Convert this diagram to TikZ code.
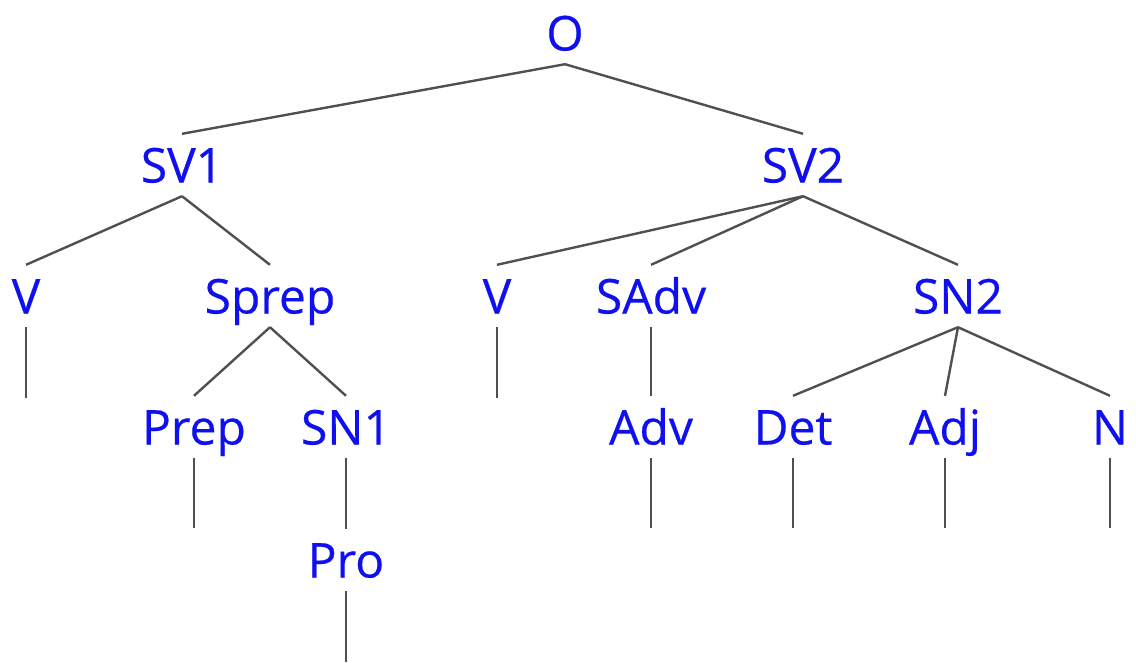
\documentclass[tikz,border=0pt]{standalone}
\usepackage{fontspec}
\setmainfont{Open Sans}
\newfontfamily\labfont{Open Sans}[FakeBold=0.4]
\definecolor{tb}{RGB}{15,15,240}
\definecolor{ln}{RGB}{80,80,80}
\begin{document}
\begin{tikzpicture}[x=1pt,y=1pt,
  cat/.style={text=tb, font=\labfont\fontsize{48}{48}\selectfont, text height=35pt, text depth=0pt, inner xsep=2pt, inner ysep=13.5pt},
  edge/.style={draw=ln, line width=2.4pt}]
\useasboundingbox (0,0) rectangle (1136,-662);
% row 0
\node[cat] (O) at (565,-33) {O};
% row 1
\node[cat] (SV1) at (182,-165) {SV1};
\node[cat] (SV2) at (803,-165) {SV2};
% row 2
\node[cat] (V1) at (26,-296) {V};
\node[cat] (Sprep) at (270,-296) {Sprep};
\node[cat] (V2) at (497,-296) {V};
\node[cat] (SAdv) at (651,-296) {SAdv};
\node[cat] (SN2) at (958,-296) {SN2};
% row 3
\node[cat] (Prep) at (194,-427) {Prep};
\node[cat] (SN1) at (346,-427) {SN1};
\node[cat] (Adv) at (651,-427) {Adv};
\node[cat] (Det) at (793,-427) {Det};
\node[cat] (Adj) at (945,-427) {Adj};
\node[cat] (N) at (1110,-427) {N};
% row 4
\node[cat] (Pro) at (346,-560) {Pro};
% leaf ends
\coordinate (eV1) at (26,-398);
\coordinate (eV2) at (497,-398);
\coordinate (ePrep) at (194,-528);
\coordinate (eAdv) at (651,-528);
\coordinate (eDet) at (793,-528);
\coordinate (eAdj) at (945,-528);
\coordinate (eN) at (1110,-528);
\coordinate (ePro) at (346,-662);
% edges
\draw[edge] (O.south) -- (SV1.north);
\draw[edge] (O.south) -- (SV2.north);
\draw[edge] (SV1.south) -- (V1.north);
\draw[edge] (SV1.south) -- (Sprep.north);
\draw[edge] (SV2.south) -- (V2.north);
\draw[edge] (SV2.south) -- (SAdv.north);
\draw[edge] (SV2.south) -- (SN2.north);
\draw[edge] (Sprep.south) -- (Prep.north);
\draw[edge] (Sprep.south) -- (SN1.north);
\draw[edge] (SAdv.south) -- (Adv.north);
\draw[edge] (SN2.south) -- (Det.north);
\draw[edge] (SN2.south) -- (Adj.north);
\draw[edge] (SN2.south) -- (N.north);
\draw[edge] (SN1.south) -- (Pro.north);
\draw[edge] (V1.south) -- (eV1);
\draw[edge] (V2.south) -- (eV2);
\draw[edge] (Prep.south) -- (ePrep);
\draw[edge] (Adv.south) -- (eAdv);
\draw[edge] (Det.south) -- (eDet);
\draw[edge] (Adj.south) -- (eAdj);
\draw[edge] (N.south) -- (eN);
\draw[edge] (Pro.south) -- (ePro);
\end{tikzpicture}
\end{document}
